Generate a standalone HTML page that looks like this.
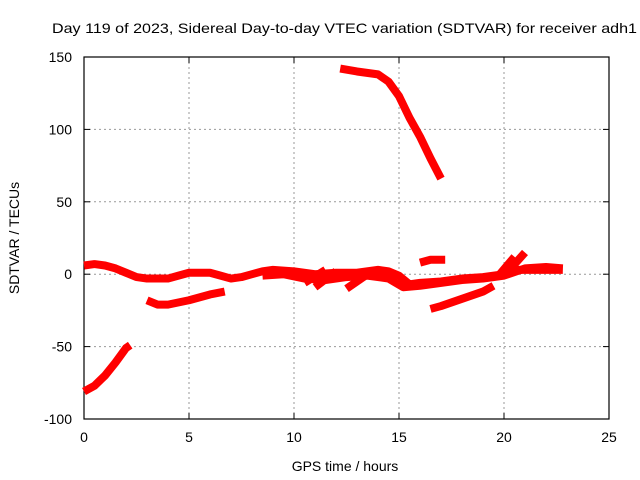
<!DOCTYPE html>
<html><head><meta charset="utf-8"><style>
body{margin:0;background:#fff}
svg{display:block;font-family:"Liberation Sans",sans-serif}
</style></head><body>
<svg id="chart" width="640" height="480"></svg>
<script>
const xTicks=[0,5,10,15,20,25];
const yTicks=[-100,-50,0,50,100,150];
const seriesMain=[[0,6],[0.5,7],[1,6],[1.5,4],[2,1],[2.5,-2],[3,-3],[4,-3],[4.5,-1],[5,1],[6,1],[6.5,-1],[7,-3],[7.5,-2],[8,0],[8.5,2],[9,3],[10,2],[11,0],[12,1],[13,1],[14,3],[14.5,2],[15,-1],[15.5,-7],[16,-6],[17,-5],[18,-3],[19,-2],[20,0],[20.5,3],[21,3],[22,3],[22.8,3]];
const seriesMain2=[[8.5,-1],[9.5,0],[10.5,-3],[11.5,-4],[12.5,-2],[13.5,-1],[14.5,-3],[15.2,-9],[16,-8],[17,-6],[18,-4],[19,-3],[20,-1],[21,4],[22,5],[22.8,4]];
const seriesB=[[3,-18],[3.5,-21],[4,-21],[5,-18],[6,-14],[6.7,-12]];
const seriesC=[[0,-81],[0.5,-77],[1,-70],[1.5,-61],[2,-51],[2.2,-49]];
const seriesD=[[12.2,142],[13,140],[14,138],[14.5,133],[15,123],[15.5,108],[16,95],[16.5,80],[17,66]];
const seriesE=[[16,8],[16.5,10],[17,10],[17.2,10]];
const seriesF=[[16.5,-24],[17,-22],[18,-17],[19,-12],[19.5,-8]];
const seriesG1=[[19.8,0],[20.5,12]];
const seriesG2=[[20.2,2],[21,15]];
const seriesH1=[[11,-9],[12,2]];
const seriesH2=[[12.5,-10],[13.5,0]];
const seriesH3=[[10.5,-6],[11.5,3]];
const allSeries=[seriesMain,seriesMain2,seriesB,seriesC,seriesD,seriesE,seriesF,seriesG1,seriesG2,seriesH1,seriesH2,seriesH3];
const X0=84,X1=609,Y0=419,Y1=57;
const sx=v=>X0+(v-0)/(25-0)*(X1-X0);
const sy=v=>Y0-(v+100)/250*(Y0-Y1);
const svg=document.getElementById('chart');
const NS='http://www.w3.org/2000/svg';
function mk(t,a){const e=document.createElementNS(NS,t);for(const k in a)e.setAttribute(k,a[k]);svg.appendChild(e);return e;}
xTicks.forEach(t=>{
 if(t>0&&t<25){const g=mk('line',{x1:sx(t),x2:sx(t),y1:Y1,y2:Y0,stroke:'#999','stroke-dasharray':'2,3'});
 
 }
 const k=mk('line',{x1:sx(t),x2:sx(t),y1:Y0,y2:Y0-6,stroke:'#000'});
 
 
 const k2=mk('line',{x1:sx(t),x2:sx(t),y1:Y1,y2:Y1+6,stroke:'#000'});
 
 
 const l=mk('text',{x:sx(t),y:Y0+23,'text-anchor':'middle','font-size':'14'});l.textContent=t;
 
 
});
yTicks.forEach(t=>{
 if(t>-100&&t<150){const g=mk('line',{x1:X0,x2:X1,y1:sy(t),y2:sy(t),stroke:'#999','stroke-dasharray':'2,3'});
 
 }
 const k=mk('line',{x1:X0,x2:X0+6,y1:sy(t),y2:sy(t),stroke:'#000'});
 
 
 const k2=mk('line',{x1:X1,x2:X1-6,y1:sy(t),y2:sy(t),stroke:'#000'});
 
 
 const l=mk('text',{x:X0-12,y:sy(t)+5,'text-anchor':'end','font-size':'14'});l.textContent=t;
 
 
});
const frame=mk('rect',{x:X0,y:Y1,width:X1-X0,height:Y0-Y1,fill:'none',stroke:'#000','stroke-width':1.2});


allSeries.forEach(s=>{
 const p=mk('polyline',{points:s.map(d=>sx(d[0])+','+sy(d[1])).join(' '),fill:'none',stroke:'#f00','stroke-width':8,'stroke-linejoin':'round'});
 
 
});
const title=mk('text',{x:52,y:33,'font-size':'14',textLength:585,lengthAdjust:'spacingAndGlyphs'});title.textContent='Day 119 of 2023, Sidereal Day-to-day VTEC variation (SDTVAR) for receiver adh1';


const xl=mk('text',{x:345,y:471,'text-anchor':'middle','font-size':'14'});xl.textContent='GPS time / hours';


const yl=mk('text',{x:0,y:0,'text-anchor':'middle','font-size':'14',transform:'translate(19,238) rotate(-90)'});yl.textContent='SDTVAR / TECUs';


</script>
</body></html>
